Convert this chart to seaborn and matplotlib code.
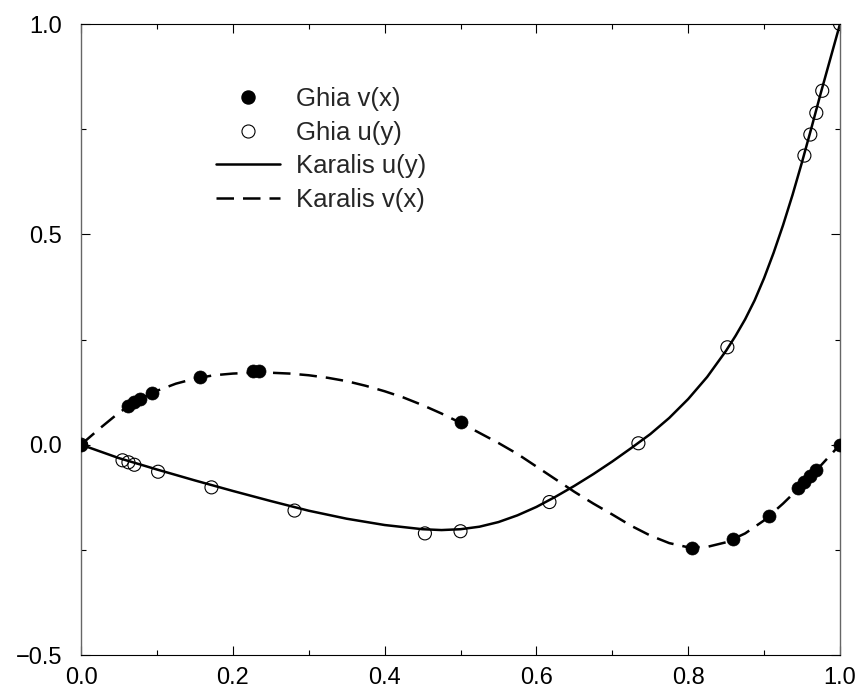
import matplotlib
matplotlib.use("Agg")
import matplotlib.pyplot as plt
import seaborn as sns
from matplotlib.lines import Line2D
from matplotlib.legend_handler import HandlerLine2D
from matplotlib.ticker import MultipleLocator

# Ghia et al. benchmark points
ghiaVX = [0.0, 0.0625, 0.0703, 0.0781, 0.0938, 0.1563, 0.2266, 0.2344, 0.5,
          0.8047, 0.8594, 0.9063, 0.9453, 0.9531, 0.9609, 0.9688, 1.0]
ghiaV = [0.0, 0.09233, 0.10091, 0.10890, 0.12317, 0.16077, 0.17507, 0.17527, 0.05454,
         -0.24533, -0.22445, -0.16914, -0.10313, -0.08864, -0.07391, -0.05906, 0.0]

ghiaUY = [0.0, 0.0547, 0.0625, 0.0703, 0.1016, 0.1719, 0.2813, 0.4531, 0.5,
          0.6172, 0.7344, 0.8516, 0.9531, 0.9609, 0.9688, 0.9766, 1.0]
ghiaU = [0.0, -0.03717, -0.04192, -0.04775, -0.06434, -0.10150, -0.15662, -0.21090, -0.20581,
         -0.13641, 0.00332, 0.23151, 0.68717, 0.73722, 0.78871, 0.84123, 1.0]

# Karalis curves
karalisUY = [0.0, 0.05, 0.10, 0.15, 0.20, 0.25, 0.30, 0.35, 0.40, 0.45, 0.475, 0.50,
             0.525, 0.55, 0.575, 0.60, 0.625, 0.65, 0.675, 0.70, 0.725, 0.75, 0.775,
             0.80, 0.825, 0.85, 0.8625, 0.875, 0.8875, 0.90, 0.9125, 0.925, 0.9375,
             0.95, 0.9625, 0.975, 0.9875, 1.0]
karalisU = [0.0, -0.032, -0.059, -0.085, -0.110, -0.134, -0.157, -0.176, -0.191, -0.201, -0.203, -0.201,
            -0.195, -0.184, -0.168, -0.148, -0.124, -0.098, -0.070, -0.040, -0.008, 0.025, 0.0635,
            0.1085, 0.161, 0.2235, 0.259, 0.298, 0.343, 0.396, 0.456, 0.522, 0.594,
            0.672, 0.754, 0.838, 0.919, 1.0]

karalisVX = [0.0, 0.025, 0.05, 0.075, 0.10, 0.125, 0.15, 0.175, 0.20, 0.225, 0.25, 0.275,
             0.30, 0.325, 0.35, 0.375, 0.40, 0.425, 0.45, 0.475, 0.50, 0.525, 0.55, 0.575,
             0.60, 0.625, 0.65, 0.675, 0.70, 0.725, 0.75, 0.775, 0.80, 0.825, 0.85, 0.875,
             0.90, 0.925, 0.95, 0.975, 1.0]
karalisV = [0.0, 0.039, 0.076, 0.106, 0.128, 0.145, 0.157, 0.165, 0.169, 0.171, 0.171, 0.169,
            0.165, 0.159, 0.151, 0.140, 0.127, 0.112, 0.094, 0.074, 0.052, 0.028, 0.004, -0.022,
            -0.052, -0.082, -0.112, -0.140, -0.166, -0.193, -0.216, -0.234, -0.244, -0.243, -0.232, -0.211,
            -0.180, -0.140, -0.096, -0.049, 0.0]

sns.set_style("ticks")
plt.rcParams['font.family'] = ['Liberation Sans', 'DejaVu Sans']

fig = plt.figure(figsize=(8.64, 6.93), dpi=100)
ax = fig.add_axes([81 / 864, 1 - 655 / 693, 759 / 864, 631 / 693])

sns.lineplot(x=karalisUY, y=karalisU, sort=False, estimator=None, color="black",
             linewidth=1.8, ax=ax, zorder=2)
sns.lineplot(x=karalisVX, y=karalisV, sort=False, estimator=None, color="black",
             linewidth=1.8, linestyle=(0, (7, 3.6)), ax=ax, zorder=2)
sns.scatterplot(x=ghiaUY, y=ghiaU, marker="o", s=88, facecolor="none",
                edgecolor="black", linewidth=0.8, ax=ax, zorder=3)
sns.scatterplot(x=ghiaVX, y=ghiaV, marker="o", s=88, color="black",
                edgecolor="black", linewidth=0.5, ax=ax, zorder=4)

ax.set_xlim(0, 1)
ax.set_ylim(-0.5, 1.0)
ax.xaxis.set_major_locator(MultipleLocator(0.2))
ax.xaxis.set_minor_locator(MultipleLocator(0.1))
ax.yaxis.set_major_locator(MultipleLocator(0.5))
ax.yaxis.set_minor_locator(MultipleLocator(0.25))
ax.tick_params(which="both", direction="in", top=True, right=True, width=0.8,
               colors="black", labelsize=17)
ax.tick_params(which="major", length=6.5)
ax.tick_params(which="minor", length=3.6)
ax.tick_params(axis="y", pad=13.5)
ax.tick_params(axis="x", pad=8.5)
for side in ["top", "bottom"]:
    ax.spines[side].set_color("black")
    ax.spines[side].set_linewidth(0.8)
for side in ["left", "right"]:
    ax.spines[side].set_color("#666666")
    ax.spines[side].set_linewidth(1.0)


class RightMarker(HandlerLine2D):
    def get_xdata(self, legend, xdescent, ydescent, width, height, fontsize):
        xdata = [-xdescent, -xdescent + width]
        return xdata, [-xdescent + width - 1.5]


handles = [
    Line2D([], [], marker="o", linestyle="none", color="black", markersize=9.4),
    Line2D([], [], marker="o", linestyle="none", markerfacecolor="none",
           markeredgecolor="black", markeredgewidth=0.8, markersize=9.4),
    Line2D([], [], color="black", linewidth=1.8),
    Line2D([], [], color="black", linewidth=1.8, linestyle=(0, (7, 3.6))),
]
labels = ["Ghia v(x)", "Ghia u(y)", "Karalis u(y)", "Karalis v(x)"]
ax.legend(handles, labels, loc="upper left", bbox_to_anchor=(216 / 864, 1 - 87 / 693),
          bbox_transform=fig.transFigure, frameon=False, fontsize=18.5,
          handlelength=2.5, handletextpad=0.62, labelspacing=0.37,
          borderpad=0, borderaxespad=0, numpoints=1,
          handler_map={Line2D: RightMarker()})

plt.savefig("out.png", dpi=100)
